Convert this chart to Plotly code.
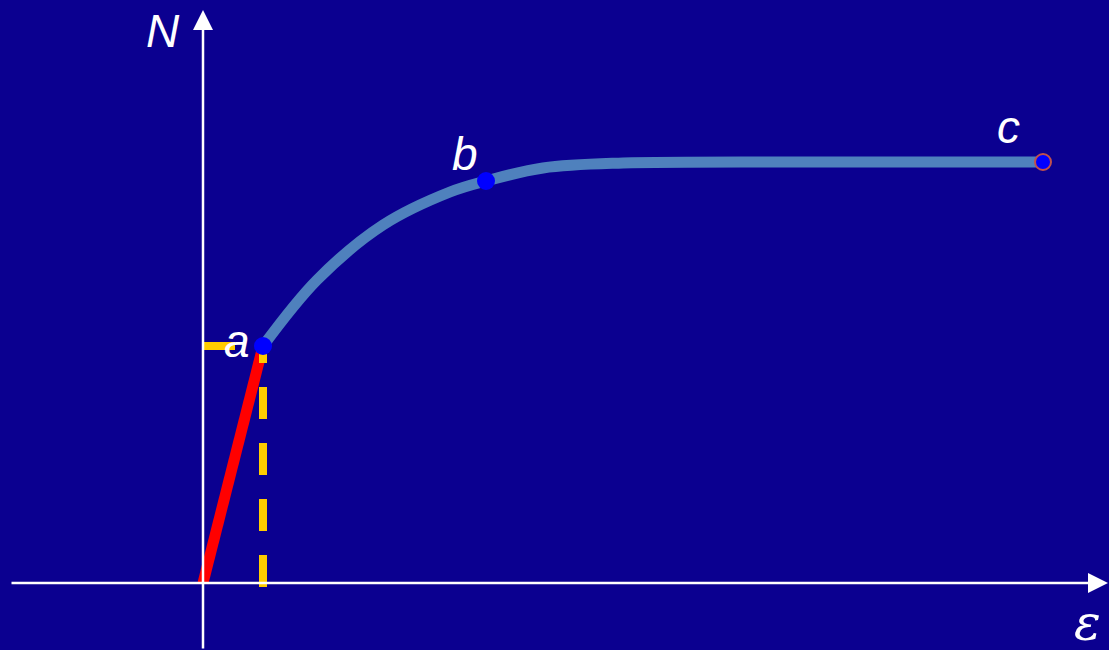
import plotly.graph_objects as go

# ---- data (strain eps vs load N, arbitrary units) ----
eps_elastic = [0, 60]
N_elastic = [0, 237]

eps_curve = [60, 114, 180, 247, 283, 340, 420, 640, 840]
N_curve = [237, 303, 358, 391, 402, 415, 420, 421, 421]

point_labels = ["a", "b", "c"]
point_eps = [60, 283, 840]
point_N = [237, 402, 421]

# axis extents
x_axis_eps = [-193, 905]
y_axis_N = [-67, 573]
x_range = [-203, 906]
y_range = [-67, 583]

BG = "#0b0090"
CURVE = "#4f81bd"
YELLOW = "#ffcc00"

fig = go.Figure()

# elastic (red) part
fig.add_trace(go.Scatter(x=eps_elastic, y=N_elastic, mode="lines",
                         line=dict(color="#ff0000", width=11), hoverinfo="skip"))
# plastic curve
fig.add_trace(go.Scatter(x=eps_curve, y=N_curve, mode="lines",
                         line=dict(color=CURVE, width=11, shape="spline", smoothing=1.0),
                         hoverinfo="skip"))
# dashed guides from point a
fig.add_trace(go.Scatter(x=[0, point_eps[0]], y=[point_N[0], point_N[0]], mode="lines",
                         line=dict(color=YELLOW, width=8, dash="32px,24px"), hoverinfo="skip"))
fig.add_trace(go.Scatter(x=[point_eps[0], point_eps[0]], y=[-4, point_N[0]], mode="lines",
                         line=dict(color=YELLOW, width=8, dash="32px,24px"), hoverinfo="skip"))
# points
fig.add_trace(go.Scatter(x=point_eps[:2], y=point_N[:2], mode="markers",
                         marker=dict(color="#0000ff", size=18, line=dict(width=0)),
                         hoverinfo="skip"))
fig.add_trace(go.Scatter(x=point_eps[2:], y=point_N[2:], mode="markers",
                         marker=dict(color="#0000ff", size=16, line=dict(color="#c0504d", width=2)),
                         hoverinfo="skip"))

annotations = []
# axes with arrows
annotations.append(dict(x=x_axis_eps[1], y=0, ax=x_axis_eps[0], ay=0,
                        xref="x", yref="y", axref="x", ayref="y", text="",
                        showarrow=True, arrowhead=2, arrowsize=1.6, arrowwidth=2.5,
                        arrowcolor="white"))
annotations.append(dict(x=0, y=y_axis_N[1], ax=0, ay=y_axis_N[0],
                        xref="x", yref="y", axref="x", ayref="y", text="",
                        showarrow=True, arrowhead=2, arrowsize=1.6, arrowwidth=2.5,
                        arrowcolor="white"))

font_sans = dict(family="Liberation Sans, Arial, sans-serif", size=46, color="white")
# axis titles
annotations.append(dict(x=-40, y=552, xref="x", yref="y", text="<i>N</i>",
                        showarrow=False, font=font_sans))
annotations.append(dict(x=884, y=-40, xref="x", yref="y", text="<i>ε</i>",
                        showarrow=False,
                        font=dict(family="DejaVu Serif, serif", size=50, color="white")))
# point labels
label_pos = {"a": (34, 242), "b": (262, 429), "c": (805, 456)}
for lab in point_labels:
    lx, ly = label_pos[lab]
    annotations.append(dict(x=lx, y=ly, xref="x", yref="y", text=f"<i>{lab}</i>",
                            showarrow=False, font=font_sans))

fig.update_layout(
    width=1109, height=650, autosize=False,
    margin=dict(l=0, r=0, t=0, b=0, pad=0),
    paper_bgcolor=BG, plot_bgcolor=BG,
    showlegend=False,
    xaxis=dict(range=x_range, visible=False, fixedrange=True),
    yaxis=dict(range=y_range, visible=False, fixedrange=True),
    annotations=annotations,
)

fig.write_html("out.html", config={"displayModeBar": False, "staticPlot": True},
               post_script="document.body.style.margin='0';document.body.style.background='%s';" % BG)
